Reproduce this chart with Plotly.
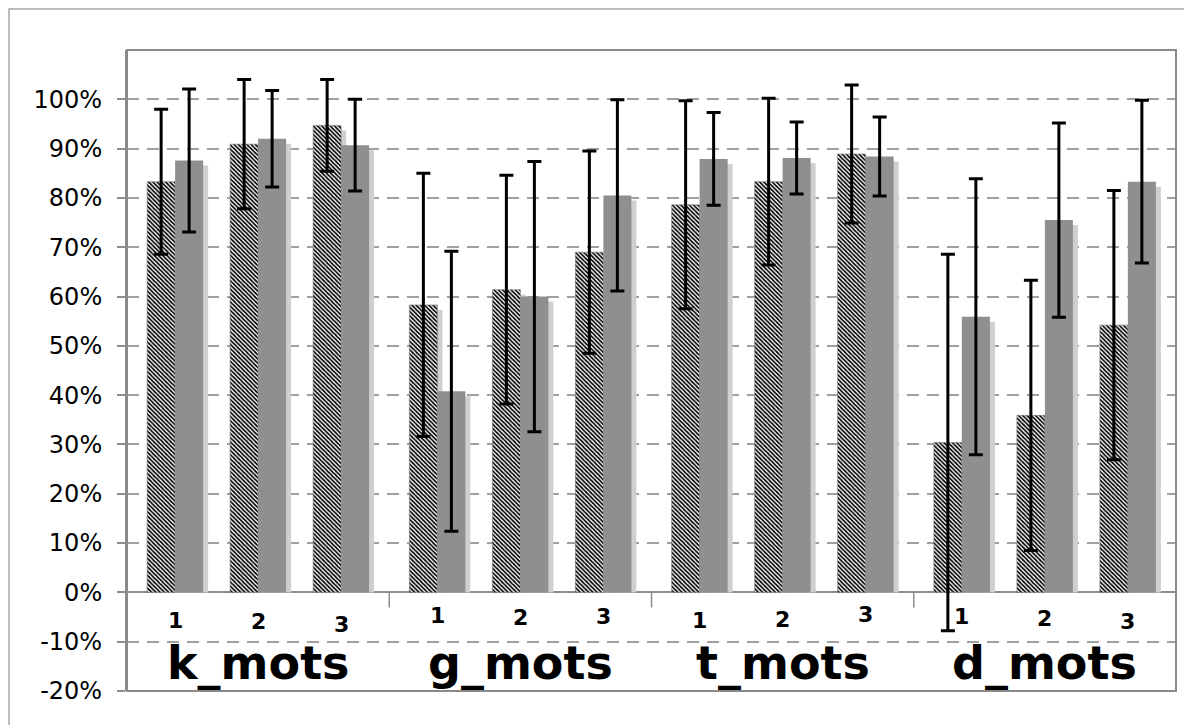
import plotly.graph_objects as go

# ---------------- data ----------------
groups = ["k_mots", "g_mots", "t_mots", "d_mots"]
subs = ["1", "2", "3"]

# hatched series (mean, %) and its error (+/-)
hatched_vals = [83.3, 90.9, 94.7, 58.3, 61.4, 69.0, 78.6, 83.3, 88.9, 30.4, 35.9, 54.2]
hatched_err = [14.7, 13.1, 9.3, 26.7, 23.2, 20.5, 21.1, 16.9, 14.0, 38.2, 27.4, 27.3]
# gray series
gray_vals = [87.6, 92.0, 90.7, 40.8, 60.0, 80.5, 87.9, 88.1, 88.4, 55.9, 75.5, 83.3]
gray_err = [14.5, 9.8, 9.3, 28.4, 27.4, 19.4, 9.4, 7.3, 8.0, 28.0, 19.7, 16.5]

y_ticks = [-20, -10, 0, 10, 20, 30, 40, 50, 60, 70, 80, 90, 100]
y_ticktext = [f"{v}%" for v in y_ticks]

# ---------------- layout constants ----------------
# page body has an 8px margin, so the figure is drawn 8px right/down
W, H = 1184, 717
ML, MR, MT, MB = 119, 16, 42, 34
plot_w = W - ML - MR
plot_h = H - MT - MB
Y0, Y1 = -20, 110
X0, X1 = -0.5, 3.5
px_x = (X1 - X0) / plot_w          # data units per px (x)
px_y = (Y1 - Y0) / plot_h          # data units per px (y)

SUB_STEP = 83 * px_x
BAR_W = 28 * px_x
SH_DX = 5 * px_x
SH_DY = 5 * px_y

xs = []
for gi in range(len(groups)):
    for si in range(len(subs)):
        xs.append(gi + (si - 1) * SUB_STEP)

FONT = "DejaVu Sans"
GRAY = "#8f8f8f"
SHADOW = "#cfcfcf"
AXIS = "#8c8c8c"

fig = go.Figure()

# shadows (drawn first)
for vals, off in ((hatched_vals, -BAR_W), (gray_vals, 0.0)):
    fig.add_trace(go.Bar(
        x=xs, y=[max(v - SH_DY, 0) for v in vals], width=BAR_W, offset=off + SH_DX,
        marker=dict(color=SHADOW, line=dict(width=0)), showlegend=False, hoverinfo="skip"))

# hatched bars
fig.add_trace(go.Bar(
    x=xs, y=hatched_vals, width=BAR_W, offset=-BAR_W,
    marker=dict(color="black",
                pattern=dict(shape="\\", size=3, solidity=0.55, fgcolor="black", bgcolor="white",
                             fgopacity=1),
                line=dict(width=0.6, color="#7a7a7a")),
    showlegend=False))

# gray bars
fig.add_trace(go.Bar(
    x=xs, y=gray_vals, width=BAR_W, offset=0,
    marker=dict(color=GRAY, line=dict(width=0)), showlegend=False))

# error bars
for vals, errs, dx in ((hatched_vals, hatched_err, -BAR_W / 2), (gray_vals, gray_err, BAR_W / 2)):
    fig.add_trace(go.Scatter(
        x=[x + dx for x in xs], y=vals, mode="markers",
        marker=dict(size=1, opacity=0),
        error_y=dict(type="data", array=errs, visible=True, color="black", thickness=3, width=7),
        showlegend=False, hoverinfo="skip"))

# sub-category labels
label_dy = [1, 2, 5, -4, -2, -3, 1, 0, -5, -3, -1, 2]
for i, x in enumerate(xs):
    fig.add_annotation(x=x, y=-27 * px_y, xref="x", yref="y",
                       text=subs[i % 3], showarrow=False, yshift=-label_dy[i],
                       font=dict(family=FONT, size=22, color="black", weight="bold"),
                       xanchor="center", yanchor="middle")

# group labels
for gi, g in enumerate(groups):
    fig.add_annotation(x=gi, y=-71 * px_y, xref="x", yref="y", text=g, showarrow=False,
                       font=dict(family=FONT, size=46, color="black", weight="bold"),
                       xanchor="center", yanchor="middle")

shapes = []
# group separator ticks on the x axis
for b in (0.5, 1.5, 2.5):
    shapes.append(dict(type="line", xref="x", yref="y", x0=b, x1=b, y0=0, y1=-15 * px_y,
                       line=dict(color=AXIS, width=1.5)))
# plot area border
shapes.append(dict(type="rect", xref="paper", yref="paper", x0=0, x1=1, y0=0, y1=1,
                   line=dict(color="#8a8a8a", width=2)))
# outer chart frame
shapes.append(dict(type="rect", xref="paper", yref="paper",
                   x0=(1 - ML) / plot_w, x1=(W + 10 - ML) / plot_w,
                   y0=-(MB + 10) / plot_h, y1=(H - MB - 1) / plot_h,
                   line=dict(color="#a8a8a8", width=1.5)))

fig.update_layout(
    width=W, height=H,
    margin=dict(l=ML, r=MR, t=MT, b=MB),
    paper_bgcolor="white", plot_bgcolor="white",
    barmode="overlay",
    showlegend=False,
    shapes=shapes,
    font=dict(family=FONT, color="black"),
    xaxis=dict(range=[X0, X1], showgrid=False, showticklabels=False, ticks="",
               zeroline=False, showline=False, fixedrange=True),
    yaxis=dict(range=[Y0, Y1], tickvals=y_ticks, ticktext=y_ticktext,
               tickfont=dict(family=FONT, size=24, color="black"),
               ticks="outside", ticklen=8, tickcolor=AXIS, tickwidth=1.5,
               ticklabelstandoff=10,
               showgrid=True, gridcolor="#a0a0a0", gridwidth=1.5, griddash="12px,8px",
               zeroline=True, zerolinecolor=AXIS, zerolinewidth=2,
               showline=True, linecolor=AXIS, linewidth=2, fixedrange=True),
)

fig.write_html("out.html")
